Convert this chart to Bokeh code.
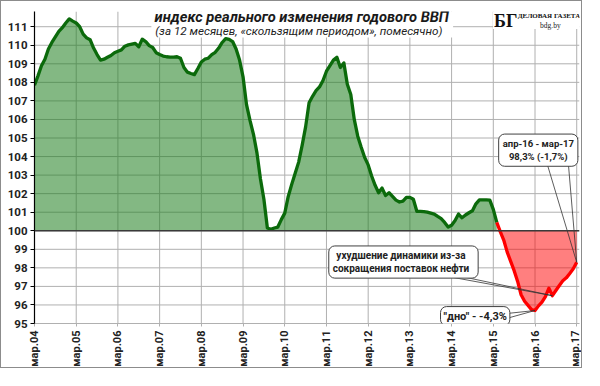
import numpy as np
from bokeh.plotting import figure
from bokeh.models import FixedTicker, Label, Span
from bokeh.embed import file_html
from bokeh.resources import INLINE

# ---- data: 12-month rolling real GDP index, %, monthly from mar.04 ----
tick_labels = ["мар.04", "мар.05", "мар.06", "мар.07", "мар.08", "мар.09", "мар.10",
               "мар.11", "мар.12", "мар.13", "мар.14", "мар.15", "мар.16", "мар.17"]
gdp_2004 = [107.85, 108.35, 108.9, 109.25, 109.8, 110.15, 110.45, 110.75, 110.95, 111.2, 111.42, 111.3]
gdp_2005 = [111.2, 111.0, 110.6, 110.4, 110.3, 109.85, 109.5, 109.2, 109.25, 109.35, 109.45, 109.6]
gdp_2006 = [109.68, 109.75, 109.95, 110.02, 110.06, 110.1, 109.92, 110.33, 110.2, 109.98, 109.88, 109.6]
gdp_2007 = [109.5, 109.42, 109.38, 109.36, 109.36, 109.38, 109.3, 108.8, 108.55, 108.48, 108.42, 108.75]
gdp_2008 = [109.1, 109.25, 109.3, 109.5, 109.62, 109.85, 110.15, 110.36, 110.32, 110.2, 109.8, 109.2]
gdp_2009 = [108.3, 106.8, 105.95, 105.2, 104.2, 102.8, 101.7, 100.15, 100.08, 100.15, 100.2, 100.6]
gdp_2010 = [100.95, 101.85, 102.5, 103.1, 103.7, 104.6, 105.6, 106.9, 107.25, 107.55, 107.75, 108.1]
gdp_2011 = [108.6, 108.9, 109.2, 109.35, 108.8, 109.05, 107.9, 107.35, 106.0, 105.1, 104.5, 103.95]
gdp_2012 = [103.55, 102.95, 102.45, 102.05, 102.3, 101.9, 102.05, 101.85, 101.65, 101.55, 101.6, 101.8]
gdp_2013 = [101.8, 101.7, 101.05, 101.05, 101.03, 101.0, 100.95, 100.9, 100.77, 100.65, 100.45, 100.2]
gdp_2014 = [100.3, 100.55, 100.9, 100.7, 100.85, 100.97, 101.08, 101.45, 101.66, 101.67, 101.66, 101.65]
gdp_2015 = [101.15, 100.45, 99.95, 99.5, 98.85, 98.35, 97.85, 97.27, 96.55, 96.2, 95.98, 95.75]
gdp_2016 = [95.7, 95.95, 96.15, 96.45, 96.9, 96.5, 96.78, 97.05, 97.3, 97.46, 97.7, 97.95, 98.3]
decline_start = 133   # apr.15: series drawn in red from here
bottom_month = 144    # mar.16, "дно"
oil_month = 149       # dip attributed to oil supply cuts

values = np.array(gdp_2004 + gdp_2005 + gdp_2006 + gdp_2007 + gdp_2008 + gdp_2009 + gdp_2010
                  + gdp_2011 + gdp_2012 + gdp_2013 + gdp_2014 + gdp_2015 + gdp_2016)
months = np.arange(len(values))
tick_pos = [12 * i for i in range(len(tick_labels))]
y_ticks = list(range(95, 112))

# ---- layout ----
FIG_W, FIG_H = 582, 368
BL, BR, BT, BB = 33, 4, 10, 42
X0, X1 = 0, 156.8
Y0, Y1 = 95, 111.82
SX, SY = 584 / 600, 370 / 386


def rx(x):
    """reference-picture pixel x -> data x (for annotation placement)"""
    f = x * SX - 1
    return X0 + (f - BL) / (FIG_W - BL - BR) * (X1 - X0)


def ry(y):
    """reference-picture pixel y -> data y (for annotation placement)"""
    f = y * SY - 1
    return Y1 - (f - BT) / (FIG_H - BT - BB) * (Y1 - Y0)


p = figure(width=FIG_W, height=FIG_H, x_range=(X0, X1), y_range=(Y0, Y1),
           output_backend="svg", toolbar_location=None,
           min_border_left=BL, min_border_right=BR, min_border_top=BT, min_border_bottom=BB)
p.outline_line_color = None
p.background_fill_color = "white"
p.border_fill_color = "white"
p.styles = {"border": "1px solid #8c8c8c"}

FONT = "Roboto"
GRID = "#b0b0b0"

# axes
p.xaxis.axis_label = None
p.yaxis.axis_label = None
p.yaxis.ticker = FixedTicker(ticks=y_ticks)
p.yaxis.axis_line_color = "black"
p.yaxis.axis_line_width = 1.2
p.yaxis.major_tick_out = 4
p.yaxis.major_tick_in = 0
p.yaxis.major_tick_line_color = "black"
p.yaxis.minor_tick_line_color = None
p.yaxis.major_label_text_font = FONT
p.yaxis.major_label_text_font_style = "bold"
p.yaxis.major_label_text_font_size = "11.5px"
p.yaxis.major_label_text_color = "#222222"
p.yaxis.major_label_standoff = 3

p.xaxis.ticker = FixedTicker(ticks=tick_pos)
p.xaxis.major_label_overrides = {t: l for t, l in zip(tick_pos, tick_labels)}
p.xaxis.major_label_orientation = np.pi / 2
p.xaxis.axis_line_color = GRID
p.xaxis.major_tick_line_color = GRID
p.xaxis.major_tick_out = 3
p.xaxis.major_tick_in = 0
p.xaxis.minor_tick_line_color = None
p.xaxis.major_label_text_font = FONT
p.xaxis.major_label_text_font_style = "bold"
p.xaxis.major_label_text_font_size = "11px"
p.xaxis.major_label_text_color = "#222222"
p.xaxis.major_label_standoff = 4

# grid drawn as line glyphs beneath the data
p.xgrid.visible = False
p.ygrid.visible = False
grid_xs = [[X0, X1] for _ in y_ticks] + [[t, t] for t in tick_pos]
grid_ys = [[t, t] for t in y_ticks] + [[Y0, Y1] for _ in tick_pos]
p.multi_line(xs=grid_xs, ys=grid_ys, line_color=GRID, line_width=1)

# white blocks behind title and logo (hide grid there, beneath the data)
p.quad(left=[rx(155), rx(506)], right=[rx(465), X1 + 1], bottom=[ry(39), ry(30)],
       top=[Y1 + 1, Y1 + 1], fill_color="white", line_color=None)

# areas
g = months <= decline_start
r = months >= decline_start
p.varea(x=months[g], y1=100, y2=np.maximum(values[g], 100), fill_color="#1e7d1e", fill_alpha=0.55)
p.varea(x=months[r], y1=np.minimum(values[r], 100), y2=100, fill_color="#ff0000", fill_alpha=0.5)
p.add_layout(Span(location=100, dimension="width", line_color="#3a3a3a", line_width=1.3))
p.line(months[g], values[g], line_color="#0b6a0b", line_width=3.3, line_join="round")
p.line(months[r], values[r], line_color="#ff0000", line_width=3.3, line_join="round")

# callout pointers
last = len(values) - 1
p.multi_line(
    xs=[[rx(561.5), last], [rx(583.4), last],
        [rx(452), oil_month], [rx(467), oil_month],
        [rx(521), bottom_month], [rx(521), bottom_month]],
    ys=[[ry(172), values[last]], [ry(172), values[last]],
        [ry(290), values[oil_month]], [ry(290), values[oil_month]],
        [ry(330.5), values[bottom_month]], [ry(335.5), values[bottom_month]]],
    line_color="#333333", line_width=0.8)

box_kw = dict(text_font=FONT, text_font_style="bold", text_color="#222222",
              background_fill_color="white", background_fill_alpha=1,
              border_line_color="#404040", border_line_width=1, border_radius=6,
              text_align="center", text_baseline="middle")
p.add_layout(Label(x=rx(552.5), y=ry(158), text="апр-16 - мар-17\n98,3% (-1,7%)",
                   text_font_size="9.5px", padding=4, **box_kw))
p.add_layout(Label(x=rx(414), y=ry(276.2),
                   text="ухудшение  динамики  из-за\nсокращения  поставок  нефти",
                   text_font_size="10px", padding=4, **box_kw))
p.add_layout(Label(x=rx(487.7), y=ry(333.3), text='"дно" - -4,3%',
                   text_font_size="11px", padding=3, **box_kw))

# titles
p.add_layout(Label(x=rx(12), y=ry(18.5), text="%", text_font=FONT, text_font_style="bold",
                   text_font_size="15px", text_color="#222222", text_baseline="alphabetic"))
p.add_layout(Label(x=rx(309.5), y=ry(17), text="индекс реального изменения годового ВВП",
                   text_font=FONT, text_font_style="bold italic", text_font_size="14.7px",
                   text_color="#1a1a1a", text_align="center", text_baseline="alphabetic"))
p.add_layout(Label(x=rx(306.5), y=ry(32),
                   text="(за 12 месяцев, «скользящим периодом», помесячно)",
                   text_font=FONT, text_font_style="italic", text_font_size="11.7px",
                   text_color="#222222", text_align="center", text_baseline="alphabetic"))

# logo
p.add_layout(Label(x=rx(507), y=ry(21.5), text="БГ", text_font="Liberation Serif",
                   text_font_style="bold", text_font_size="18px", text_color="#111111",
                   text_baseline="alphabetic"))
p.add_layout(Label(x=rx(563.5), y=ry(16), text="ДЕЛОВАЯ ГАЗЕТА", text_font="Liberation Serif",
                   text_font_style="bold", text_font_size="7px", text_color="#111111",
                   text_align="center", text_baseline="alphabetic"))
p.add_layout(Label(x=rx(565), y=ry(26.5), text="bdg.by", text_font="Liberation Serif",
                   text_font_size="7.5px", text_color="#222222",
                   text_align="center", text_baseline="alphabetic"))

open("out.html", "w").write(file_html(p, INLINE))
